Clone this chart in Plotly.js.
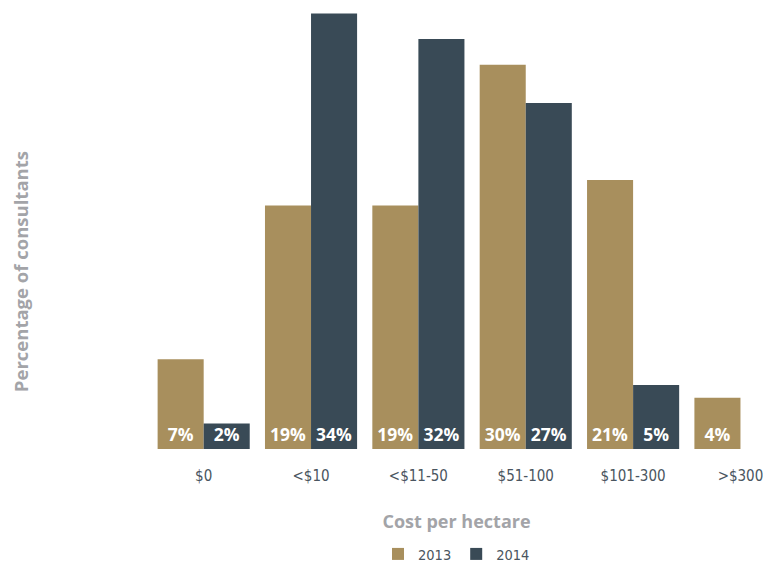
<!DOCTYPE html>
<html><head><meta charset="utf-8">
<script src="https://cdn.plot.ly/plotly-3.0.1.min.js"></script>
<style>body{margin:0;background:#fff}#c{width:763px;height:563px}</style>
</head><body><div id="c"></div>
<script>
const categories = ["$0", "<$10", "<$11-50", "$51-100", "$101-300", ">$300"];
const values2013 = [7, 19, 19, 30, 21, 4];
const values2014 = [2, 34, 32, 27, 5, null];
const seriesNames = ["2013", "2014"];
const colors = ["#a88f5d", "#394a56"];

function lbl(v){ return v.map(x => x == null ? "" : x + "%"); }

const narrow = "DejaVu Sans Condensed, Liberation Sans Narrow, sans-serif";
const common = {
  type: "bar",
  textposition: "inside",
  insidetextanchor: "start",
  textangle: 0,
  cliponaxis: false,
  textfont: {family: "Open Sans, sans-serif", size: 17.5, color: "#ffffff", weight: 700},
  hoverinfo: "none"
};
const data = [
  Object.assign({}, common, {x: categories, y: values2013, name: seriesNames[0], text: lbl(values2013), marker: {color: colors[0]}}),
  Object.assign({}, common, {x: categories, y: values2014, name: seriesNames[1], text: lbl(values2014), marker: {color: colors[1]}})
];
const layout = {
  width: 763, height: 563,
  margin: {l: 150, r: 0, t: 0, b: 114},
  barmode: "group",
  bargap: 0.142,
  bargroupgap: 0,
  uniformtext: {mode: "show", minsize: 17.5},
  paper_bgcolor: "#fff", plot_bgcolor: "#fff",
  showlegend: true,
  legend: {orientation: "h", xref: "paper", yref: "container", x: 0.5, xanchor: "center", y: 0.016, yanchor: "middle",
    font: {family: narrow, size: 14.5, color: "#4a5560"},
    itemwidth: 30, traceorder: "normal"},
  xaxis: {type: "category", range: [-0.5, 5.21], automargin: false, showline: false, showgrid: false, zeroline: false, ticks: "",
    ticklabelstandoff: 16,
    tickfont: {family: narrow, size: 15, color: "#4a5560"},
    title: {text: "Cost per hectare", standoff: 31, font: {family: "Open Sans, sans-serif", size: 18, color: "#a3a4a8", weight: 700}}},
  yaxis: {range: [0, 35.05], visible: false, showgrid: false, zeroline: false, automargin: false},
  annotations: [{text: "Percentage of consultants", xref: "paper", yref: "paper", x: -0.212, y: 0.394, xanchor: "center", yanchor: "middle",
    textangle: -90, showarrow: false, font: {family: "Open Sans, sans-serif", size: 18.5, color: "#a3a4a8", weight: 700}}]
};
Plotly.newPlot("c", data, layout, {displayModeBar: false, staticPlot: true});
</script></body></html>
